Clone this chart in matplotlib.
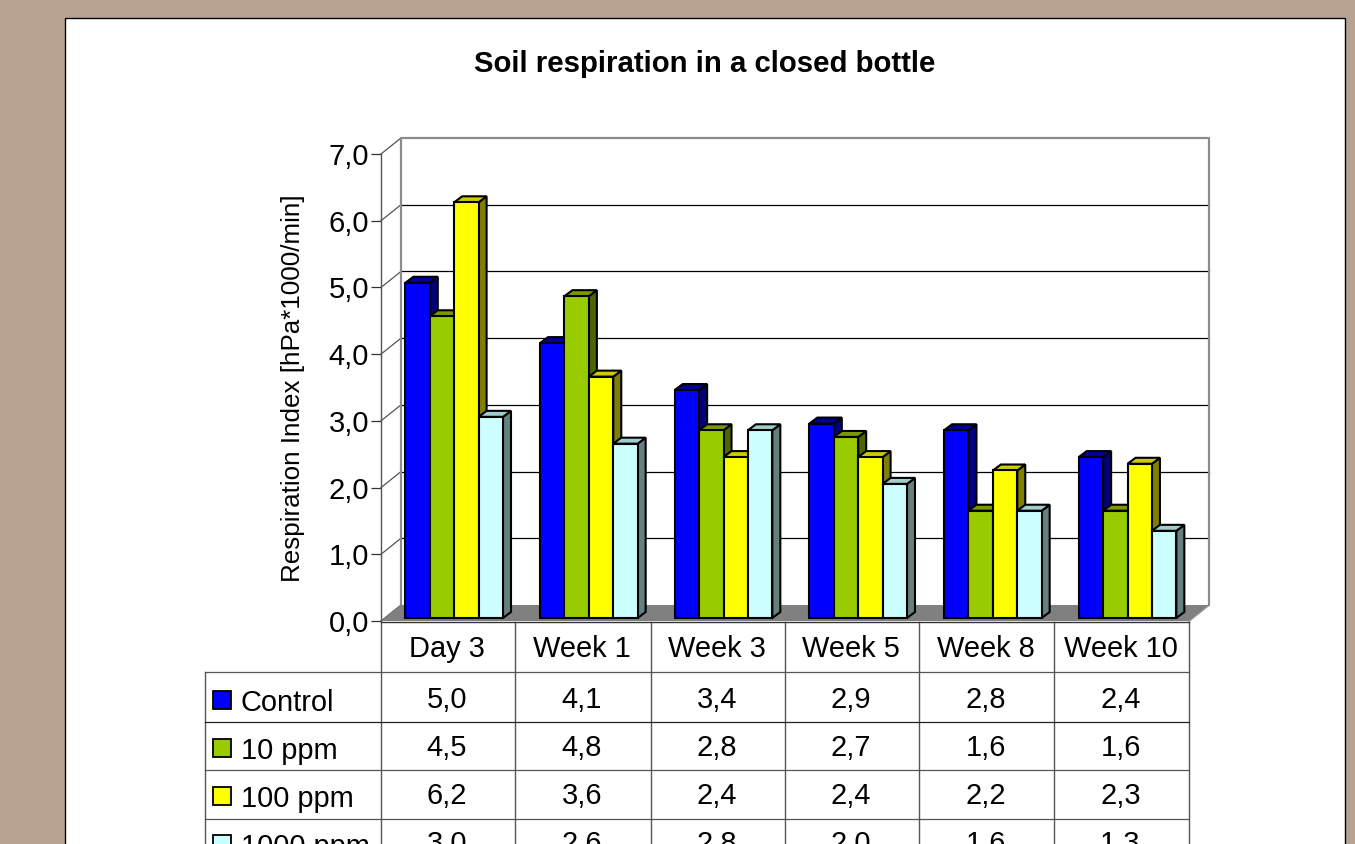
import matplotlib
matplotlib.use('Agg')
import matplotlib.pyplot as plt
from matplotlib.patches import Polygon, Rectangle

plt.rcParams['font.family'] = ['Liberation Sans', 'DejaVu Sans']

# data
categories = ['Day 3', 'Week 1', 'Week 3', 'Week 5', 'Week 8', 'Week 10']
series_names = ['Control', '10 ppm', '100 ppm', '1000 ppm']
control = [5.0, 4.1, 3.4, 2.9, 2.8, 2.4]
ppm_10 = [4.5, 4.8, 2.8, 2.7, 1.6, 1.6]
ppm_100 = [6.2, 3.6, 2.4, 2.4, 2.2, 2.3]
ppm_1000 = [3.0, 2.6, 2.8, 2.0, 1.6, 1.3]
series_values = [control, ppm_10, ppm_100, ppm_1000]
y_ticks = [0, 1, 2, 3, 4, 5, 6, 7]

# front, side, top colours for each series
front_colors = ['#0000ff', '#99cc00', '#ffff00', '#ccffff']
side_colors = ['#000080', '#4d6600', '#808000', '#668080']
top_colors = ['#000099', '#7a9900', '#cccc00', '#a3cccc']

W, H = 1355, 844
fig = plt.figure(figsize=(W / 100, H / 100), dpi=100, facecolor='#b8a392')

# pixel canvas for frame, table and titles
bg = fig.add_axes([0, 0, 1, 1])
bg.set_xlim(0, W)
bg.set_ylim(H, 0)
bg.axis('off')
bg.add_patch(Rectangle((64.5, 18), 1280, 900, fc='white', ec='black', lw=1.0))

bg.text(705, 63.5, 'Soil respiration in a closed bottle', fontsize=21.2,
        fontweight='bold', ha='center', va='center')
bg.text(293, 388, 'Respiration Index [hPa*1000/min]', fontsize=18.7,
        rotation=90, ha='center', va='center')

# chart axes sit on the front plane of the 3D box
left, right, y0, y7 = 381, 1189, 621, 154
ax = fig.add_axes([left / W, 1 - y0 / H, (right - left) / W, (y0 - y7) / H])
ax.set_xlim(0, len(categories))
ax.set_ylim(0, 7)
ax.patch.set_alpha(0)
for s in ['top', 'right', 'bottom']:
    ax.spines[s].set_visible(False)
ax.spines['left'].set_color('#555555')
ax.spines['left'].set_linewidth(1.0)
ax.set_xticks([])
ax.set_yticks(y_ticks)
ax.set_yticklabels([('%.1f' % v).replace('.', ',') for v in y_ticks])
ax.yaxis.set_tick_params(labelsize=21, length=7.5, width=0.9, color='#333333', pad=1)

ux = len(categories) / (right - left)  # data units per pixel
uy = 7 / (y0 - y7)
wall_dx, wall_dy = 20 * ux, 16 * uy
n = len(categories)


def clip_free(patch):
    patch.set_clip_on(False)
    ax.add_patch(patch)


# back wall lines, left wall lines, floor
for v in y_ticks[1:-1]:
    ax.plot([wall_dx, n + wall_dx], [v + wall_dy, v + wall_dy], color='black', lw=0.9,
            clip_on=False, zorder=1)
for v in y_ticks:
    ax.plot([0, wall_dx], [v, v + wall_dy], color='#555555', lw=0.9, clip_on=False, zorder=1)
ax.plot([wall_dx, wall_dx, n + wall_dx, n + wall_dx],
        [wall_dy, 7 + wall_dy, 7 + wall_dy, wall_dy],
        color='#8c8c8c', lw=1.6, clip_on=False, zorder=1)
floor = Polygon([(0, 0), (wall_dx, wall_dy), (n + wall_dx, wall_dy), (n, 0)],
                fc='#808080', ec='none', zorder=1.5)
clip_free(floor)
ax.plot([n, n + wall_dx], [0, wall_dy], color='#8c8c8c', lw=1.2, clip_on=False, zorder=1.6)

# bars
bar_w = 24.4 * ux
bar_dx, bar_dy = 8 * ux, 6 * uy
base_x, base_y = 24.4 * ux, 3 * uy
height_scale = 1.005
edge = dict(ec='black', lw=1.5, joinstyle='miter')
z = 2
for c in range(n):
    for s, vals in enumerate(series_values):
        x0 = c + base_x + s * bar_w
        x1 = x0 + bar_w
        b = base_y
        t = base_y + vals[c] * height_scale
        clip_free(Polygon([(x1, b), (x1 + bar_dx, b + bar_dy), (x1 + bar_dx, t + bar_dy), (x1, t)],
                          fc=side_colors[s], zorder=z, **edge))
        clip_free(Polygon([(x0, t), (x0 + bar_dx, t + bar_dy), (x1 + bar_dx, t + bar_dy), (x1, t)],
                          fc=top_colors[s], zorder=z, **edge))
        clip_free(Rectangle((x0, b), bar_w, t - b, fc=front_colors[s], zorder=z + 0.1, **edge))
        z += 0.2

# table below the chart
col_edges = [381, 515, 651, 785, 919, 1054, 1189]
row_lines = [672, 722, 770, 819]
line_grey = '#555555'
bg.plot([381, 381], [621, 844], color=line_grey, lw=1.0)
for xe in col_edges[1:]:
    bg.plot([xe, xe], [622, 844], color=line_grey, lw=1.0)
bg.plot([205, 205], [672, 844], color=line_grey, lw=1.0)
bg.plot([381, 1189], [622, 622], color='#333333', lw=1.0)
for i, yl in enumerate(row_lines):
    bg.plot([205, 1189], [yl, yl], color=line_grey if i != 1 else '#222222', lw=0.9)

tsize = 20.9
centers = [(col_edges[i] + col_edges[i + 1]) / 2 - 1 for i in range(n)]
for i, cat in enumerate(categories):
    bg.text(centers[i], 649, cat, fontsize=tsize, ha='center', va='center')
row_mid = [700, 748, 796, 844]
for s, name in enumerate(series_names):
    bg.add_patch(Rectangle((213, row_mid[s] - 9.5), 18, 18, fc=front_colors[s], ec='black', lw=1.3))
    bg.text(241, row_mid[s] + 3, name, fontsize=tsize, ha='left', va='center')
    for i, v in enumerate(series_values[s]):
        bg.text(centers[i], row_mid[s], ('%.1f' % v).replace('.', ','), fontsize=tsize,
                ha='center', va='center')

fig.savefig('out.png', dpi=100, facecolor=fig.get_facecolor())
